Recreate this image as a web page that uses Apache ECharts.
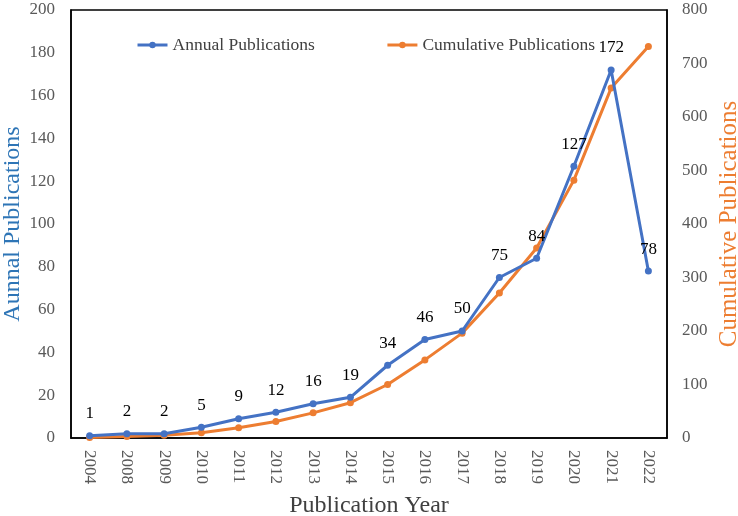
<!DOCTYPE html>
<html><head><meta charset="utf-8">
<script src="https://cdn.jsdelivr.net/npm/echarts@6/dist/echarts.min.js"></script>
<style>html,body{margin:0;padding:0;background:#fff}#c{width:738px;height:516px}</style>
</head><body><div id="c"></div>
<script>
const years = ['2004','2008','2009','2010','2011','2012','2013','2014','2015','2016','2017','2018','2019','2020','2021','2022'];
const annual = [1,2,2,5,9,12,16,19,34,46,50,75,84,127,172,78];
const cumulative = [1,3,5,10,19,31,47,66,100,146,196,271,355,482,654,732];

const FONT = '"Liberation Serif","Times New Roman",serif';
const chart = echarts.init(document.getElementById('c'));
chart.setOption({
  animation:false,
  textStyle:{fontFamily:FONT},
  grid:{left:71,right:71,top:10,bottom:78,show:true,borderColor:'#000',borderWidth:1.5,containLabel:false,outerBoundsMode:'none'},
  legend:{
    top:31,left:131,itemGap:71,itemWidth:30,itemHeight:8,
    lineStyle:{width:3},
    textStyle:{fontFamily:FONT,fontSize:17.5,color:'#404040'},
    data:[{name:'Annual Publications'},{name:'Cumulative Publications'}]
  },
  xAxis:{
    type:'category',data:years,boundaryGap:true,
    name:'Publication Year',nameLocation:'middle',nameGap:56,nameMoveOverlap:false,
    nameTextStyle:{fontFamily:FONT,fontSize:24,color:'#404040'},
    axisLine:{lineStyle:{color:'#000',width:1.5}},
    axisTick:{show:false},
    axisLabel:{rotate:-90,fontFamily:FONT,fontSize:17,color:'#595959',margin:12,interval:0}
  },
  yAxis:[{
    type:'value',min:0,max:200,interval:20,position:'left',
    name:'Aunnal Publications',nameLocation:'middle',nameGap:46,nameMoveOverlap:false,
    nameTextStyle:{fontFamily:FONT,fontSize:24,color:'#2E75B6'},
    axisLine:{show:true,lineStyle:{color:'#000',width:1.5}},
    axisTick:{show:false},splitLine:{show:false},
    axisLabel:{fontFamily:FONT,fontSize:17,color:'#595959',margin:16}
  },{
    type:'value',min:0,max:800,interval:100,position:'right',
    name:'Cumulative Publications',nameLocation:'middle',nameGap:50,nameRotate:90,nameMoveOverlap:false,
    nameTextStyle:{fontFamily:FONT,fontSize:25,color:'#ED7D31'},
    axisLine:{show:true,lineStyle:{color:'#000',width:1.5}},
    axisTick:{show:false},splitLine:{show:false},
    axisLabel:{fontFamily:FONT,fontSize:17,color:'#595959',margin:15}
  }],
  series:[{
    name:'Cumulative Publications',type:'line',yAxisIndex:1,data:cumulative,
    symbol:'circle',symbolSize:7,z:2,
    lineStyle:{color:'#ED7D31',width:3},itemStyle:{color:'#ED7D31'}
  },{
    name:'Annual Publications',type:'line',yAxisIndex:0,data:annual,
    symbol:'circle',symbolSize:7,z:3,
    lineStyle:{color:'#4472C4',width:3},itemStyle:{color:'#4472C4'},
    label:{show:true,position:'top',distance:10,fontFamily:FONT,fontSize:17,color:'#000'}
  }]
});
</script></body></html>
